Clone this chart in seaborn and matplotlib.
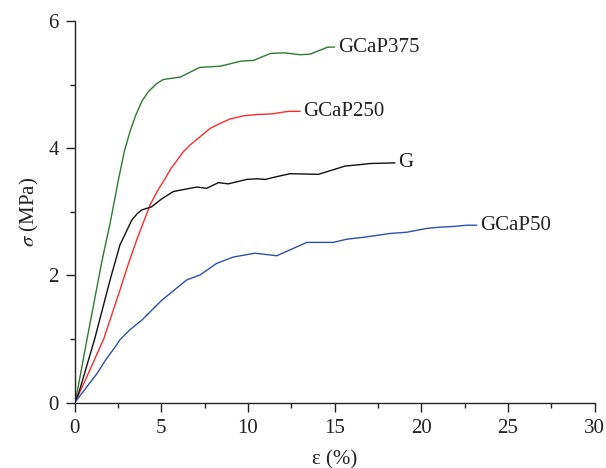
import matplotlib
matplotlib.use("Agg")
import matplotlib.pyplot as plt
from matplotlib.ticker import MultipleLocator
import pandas as pd
import seaborn as sns

# Stress-strain curves, strain in %, stress in MPa
strain_gcap375 = [0, 0.13, 0.71, 1.58, 2.04, 2.52, 2.86, 3.2, 3.52, 3.9, 4.25,
                  4.7, 5.1, 6.1, 7.2, 8.4, 9.6, 10.3, 11.3, 12.1, 13.0, 13.6,
                  14.6, 15.0]
stress_gcap375 = [0, 0.15, 1.0, 2.24, 2.82, 3.50, 3.95, 4.27, 4.52, 4.75, 4.89,
                  5.01, 5.08, 5.12, 5.27, 5.29, 5.37, 5.38, 5.49, 5.50, 5.47, 5.48,
                  5.59, 5.59]

strain_gcap250 = [0, 0.52, 1.67, 2.61, 3.08, 3.58, 4.35, 4.8, 5.21, 5.55, 5.88,
                  6.25, 6.65, 7.23, 7.8, 8.38, 8.96, 9.73, 10.5, 11.37, 12.33, 13.0]
stress_gcap250 = [0, 0.3, 1.0, 1.77, 2.17, 2.56, 3.11, 3.34, 3.52, 3.68, 3.80,
                  3.94, 4.05, 4.18, 4.31, 4.39, 4.46, 4.51, 4.53, 4.54, 4.58, 4.58]

strain_g = [0, 0.23, 1.15, 2.04, 2.61, 3.29, 3.6, 3.87, 4.44, 5.0, 5.69, 7.04,
            7.62, 8.29, 8.86, 9.92, 10.5, 11.0, 11.6, 12.42, 14.06, 15.6, 16.37,
            17.04, 18.48]
stress_g = [0, 0.15, 1.0, 1.93, 2.48, 2.87, 2.97, 3.03, 3.08, 3.2, 3.32, 3.39,
            3.37, 3.46, 3.44, 3.51, 3.52, 3.51, 3.55, 3.60, 3.59, 3.72, 3.74,
            3.76, 3.77]

strain_gcap50 = [0, 0.42, 1.29, 1.8, 2.34, 2.61, 3.2, 3.88, 5.02, 6.46, 7.24,
                 8.19, 9.15, 10.4, 11.66, 13.39, 14.92, 15.69, 16.65, 18.19,
                 19.16, 20.31, 21.08, 21.85, 22.62, 23.2]
stress_gcap50 = [0, 0.15, 0.46, 0.68, 0.88, 0.99, 1.15, 1.30, 1.61, 1.93, 2.01,
                 2.19, 2.29, 2.35, 2.31, 2.52, 2.52, 2.57, 2.60, 2.66,
                 2.68, 2.74, 2.76, 2.77, 2.79, 2.79]

series_names = ["GCaP375", "GCaP250", "G", "GCaP50"]
series_colors = ["#2f7a32", "#ff2a2a", "#111111", "#2f4fae"]
strains = [strain_gcap375, strain_gcap250, strain_g, strain_gcap50]
stresses = [stress_gcap375, stress_gcap250, stress_g, stress_gcap50]

frames = []
for name, xs, ys in zip(series_names, strains, stresses):
    frames.append(pd.DataFrame({"strain": xs, "stress": ys, "sample": name}))
data = pd.concat(frames, ignore_index=True)

sns.set_style("ticks")
plt.rcParams["font.family"] = ["Liberation Serif", "DejaVu Serif"]
plt.rcParams["mathtext.fontset"] = "stix"

fig = plt.figure(figsize=(6.06, 4.68), dpi=100)
ax = fig.add_axes([0.1233, 0.1395, 0.858, 0.8156])

sns.lineplot(data=data, x="strain", y="stress", hue="sample",
             hue_order=series_names, palette=series_colors,
             sort=False, estimator=None, linewidth=1.0, legend=False, ax=ax)

# End-of-curve labels
for name, xs, ys in zip(series_names, strains, stresses):
    ax.text(xs[-1] + 0.2, ys[-1], name, fontsize=15, va="center", ha="left",
            color="#222222")

ax.set_xlim(0, 30)
ax.set_ylim(0, 6)
ax.xaxis.set_major_locator(MultipleLocator(5))
ax.xaxis.set_minor_locator(MultipleLocator(2.5))
ax.yaxis.set_major_locator(MultipleLocator(2))
ax.yaxis.set_minor_locator(MultipleLocator(1))
ax.tick_params(which="major", direction="out", length=6.5, width=1.0,
               labelsize=15, colors="#222222", pad=5)
ax.tick_params(which="minor", direction="out", length=3.5, width=1.0,
               colors="#222222")

for side in ["top", "right"]:
    ax.spines[side].set_visible(False)
for side in ["left", "bottom"]:
    ax.spines[side].set_linewidth(1.0)
    ax.spines[side].set_color("#222222")

ax.set_xlabel("ε (%)", fontsize=15, color="#222222", labelpad=9)
ax.set_ylabel(r"$\sigma$ (MPa)", fontsize=15, color="#222222", labelpad=5)

fig.savefig("out.png", dpi=100)
